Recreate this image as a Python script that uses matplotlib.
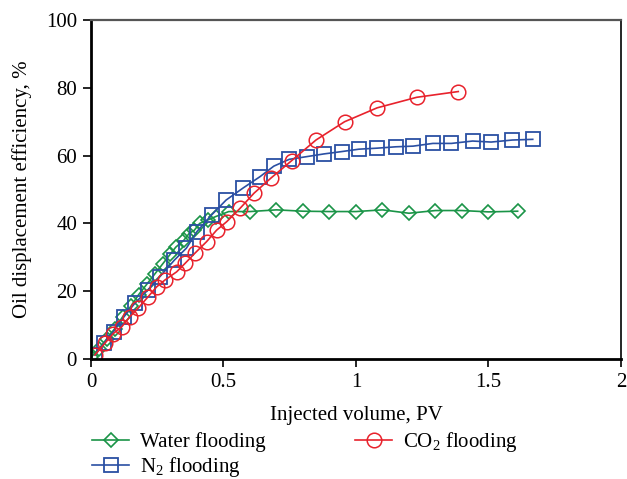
import matplotlib
matplotlib.use('Agg')
import matplotlib.pyplot as plt

plt.rcParams['font.family'] = ['Liberation Serif', 'DejaVu Serif']
plt.rcParams['mathtext.fontset'] = 'custom'
plt.rcParams['mathtext.rm'] = 'Liberation Serif'
plt.rcParams['mathtext.it'] = 'Liberation Serif:italic'

# Water flooding
water_pv = [0.0, 0.03, 0.06, 0.09, 0.12, 0.15, 0.18, 0.21, 0.24, 0.27, 0.30, 0.32,
            0.35, 0.37, 0.39, 0.41, 0.44, 0.47, 0.52, 0.60, 0.70, 0.80, 0.90, 1.00,
            1.10, 1.20, 1.30, 1.40, 1.50, 1.61]
water_eff = [0.5, 3.0, 6.0, 9.0, 12.5, 15.5, 19.0, 22.0, 25.0, 28.0, 31.0, 33.0,
             35.0, 37.0, 38.0, 40.0, 41.0, 42.0, 43.5, 43.5, 44.0, 43.6, 43.5, 43.5,
             44.0, 43.0, 43.8, 43.8, 43.4, 43.6]

# N2 flooding
n2_pv = [0.015, 0.05, 0.085, 0.125, 0.165, 0.215, 0.26, 0.315, 0.36, 0.40, 0.455,
         0.51, 0.575, 0.638, 0.69, 0.748, 0.814, 0.879, 0.947, 1.011, 1.08, 1.15,
         1.216, 1.29, 1.36, 1.44, 1.51, 1.59, 1.667]
n2_eff = [1.2, 4.7, 8.1, 12.5, 16.4, 20.4, 24.3, 29.2, 32.7, 37.6, 42.5,
          46.9, 50.5, 53.8, 56.9, 58.9, 59.7, 60.5, 61.2, 61.9, 62.2, 62.6,
          62.8, 63.6, 63.6, 64.3, 64.0, 64.6, 64.8]

# CO2 flooding
co2_pv = [0.015, 0.053, 0.084, 0.116, 0.147, 0.178, 0.216, 0.248, 0.279, 0.323,
          0.355, 0.392, 0.436, 0.474, 0.512, 0.562, 0.615, 0.678, 0.757, 0.849,
          0.957, 1.08, 1.229, 1.386]
co2_eff = [1.2, 4.7, 7.5, 9.5, 12.5, 15.0, 18.4, 21.3, 23.3, 25.7,
           28.2, 31.2, 34.6, 38.0, 40.5, 44.4, 48.9, 53.3, 58.5, 64.6,
           70.0, 74.1, 77.2, 78.9]

x_ticks = [0, 0.5, 1, 1.5, 2]
x_tick_labels = ['0', '0.5', '1', '1.5', '2']
y_ticks = [0, 20, 40, 60, 80, 100]

green = '#1a9447'
blue = '#2a4fa3'
red = '#e8222c'

fig = plt.figure(figsize=(6.27, 4.79), dpi=100)
ax = fig.add_axes([0.1451, 0.2505, 0.8453, 0.7077])

ax.plot(water_pv, water_eff, color=green, lw=1.2, marker='D', ms=7.2,
        mfc='none', mec=green, mew=1.2, label='Water flooding')
ax.plot(n2_pv, n2_eff, color=blue, lw=1.2, marker='s', ms=10,
        mfc='none', mec=blue, mew=1.3, label='N$_2$ flooding')
ax.plot(co2_pv, co2_eff, color=red, lw=1.2, marker='o', ms=10.5,
        mfc='none', mec=red, mew=1.1, label='CO$_2$ flooding')

ax.set_xlim(0, 2)
ax.set_ylim(0, 100)
ax.set_xticks(x_ticks)
ax.set_xticklabels(x_tick_labels)
ax.set_yticks(y_ticks)
ax.tick_params(direction='out', length=6, width=1.2, labelsize=15, colors='black')
ax.tick_params(axis='x', pad=4)
ax.tick_params(axis='y', pad=4)

for side in ['left', 'bottom']:
    ax.spines[side].set_linewidth(2.0)
ax.spines['right'].set_linewidth(1.2)
ax.spines['top'].set_linewidth(1.6)
ax.spines['top'].set_color('#555555')

ax.set_xlabel('Injected volume, PV', fontsize=15, labelpad=10)
ax.set_ylabel('Oil displacement efficiency, %', fontsize=15, labelpad=10)

handles, labels = ax.get_legend_handles_labels()
fig.legend(handles, labels,
           ncol=2, loc='upper left', bbox_to_anchor=(0.134, 0.119),
           frameon=False, fontsize=15, handlelength=1.75, columnspacing=4.3,
           labelspacing=0.12, handletextpad=0.55, borderaxespad=0)

fig.savefig('out.png', dpi=100)
